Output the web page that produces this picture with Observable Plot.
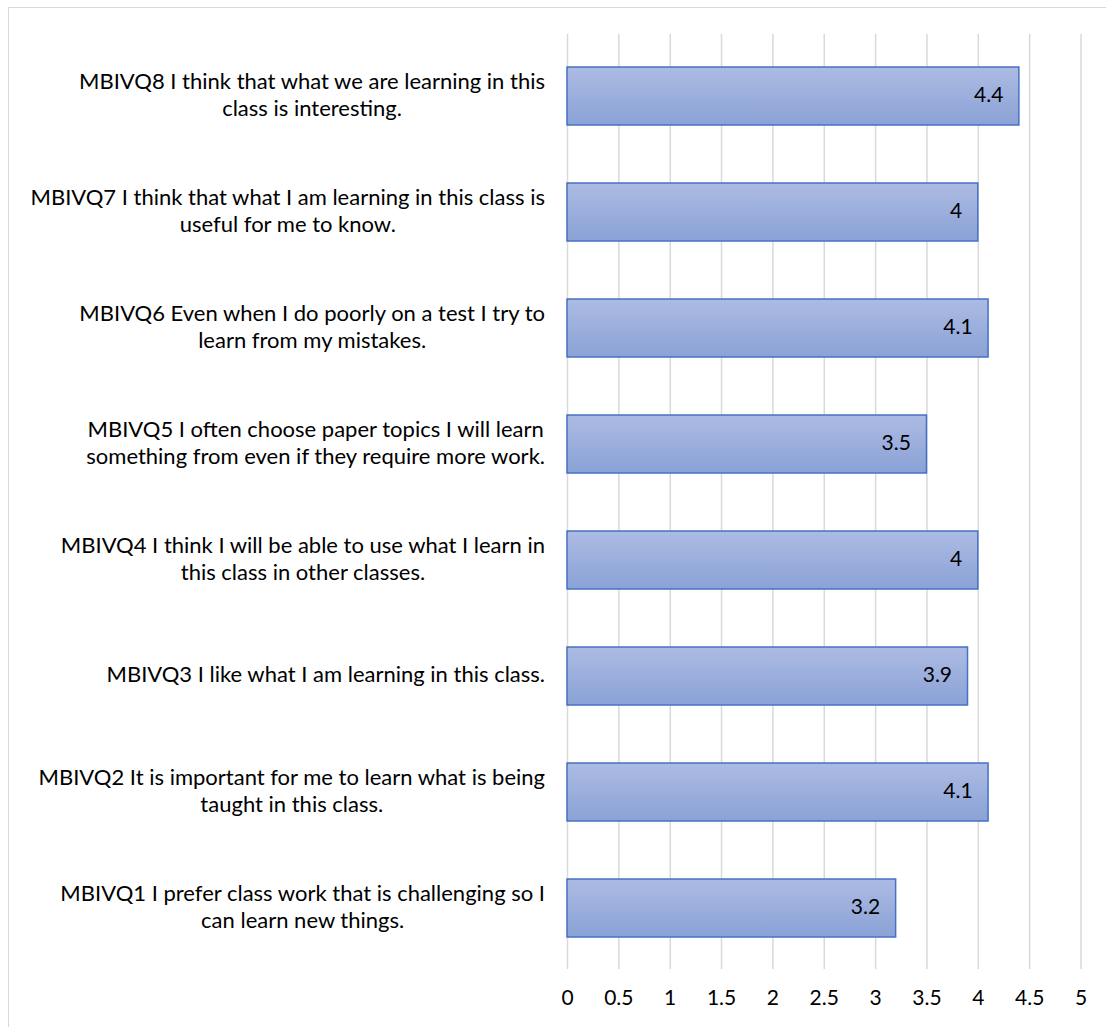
<!DOCTYPE html>
<html>
<head>
<meta charset="utf-8">
<script src="https://cdn.jsdelivr.net/npm/d3@7"></script>
<script src="https://cdn.jsdelivr.net/npm/@observablehq/plot@0.6"></script>
<style>
  html, body { margin: 0; padding: 0; background: #fff; }
  #wrap { position: relative; width: 1106px; height: 1027px; overflow: hidden; }
  #frame { position: absolute; left: 8px; top: 7px; width: 1200px; height: 1200px;
           border-left: 1px solid #d9d9d9; border-top: 1px solid #d9d9d9; }
  #chart { position: absolute; left: 0; top: 0; }
</style>
</head>
<body>
<div id="wrap"><div id="frame"></div><div id="chart"></div></div>
<script>
const categories = [
  "MBIVQ8 I think that what we are learning in this\nclass is interesting.",
  "MBIVQ7 I think that what I am learning in this class is\nuseful for me to know.",
  "MBIVQ6 Even when I do poorly on a test I try to\nlearn from my mistakes.",
  "MBIVQ5 I often choose paper topics I will learn\nsomething from even if they require more work.",
  "MBIVQ4 I think I will be able to use what I learn in\nthis class in other classes.",
  "MBIVQ3 I like what I am learning in this class.",
  "MBIVQ2 It is important for me to learn what is being\ntaught in this class.",
  "MBIVQ1 I prefer class work that is challenging so I\ncan learn new things."
];
const values = [4.4, 4, 4.1, 3.5, 4, 3.9, 4.1, 3.2];
const xTicks = [0, 0.5, 1, 1.5, 2, 2.5, 3, 3.5, 4, 4.5, 5];

const data = categories.map((c, i) => ({category: c, value: values[i]}));

const chart = Plot.plot({
  width: 1106,
  height: 1027,
  marginLeft: 567,
  marginRight: 25.5,
  marginTop: 34,
  marginBottom: 58,
  style: {fontFamily: "Lato, sans-serif", fontSize: "21px", color: "#000", background: "transparent"},
  x: {domain: [0, 5], ticks: xTicks, label: null},
  y: {domain: categories, paddingInner: 0.5, paddingOuter: 0.25, label: null},
  marks: [
    Plot.gridX(xTicks, {stroke: "#d9d9d9", strokeOpacity: 1, strokeWidth: 1.5}),
    Plot.barX(data, {x: "value", y: "category", fill: "url(#barGrad)", stroke: "#4472c4", strokeWidth: 1.5}),
    Plot.text(data, {x: "value", y: "category", text: d => String(d.value), textAnchor: "end", dx: -16, dy: -1, fontSize: 21, fill: "#000"}),
    Plot.axisX(xTicks, {anchor: "bottom", tickSize: 0, tickPadding: 21, fontSize: 21, label: null, tickFormat: d => String(d)}),
    Plot.axisY({anchor: "left", tickSize: 0, textAnchor: "middle", dx: -249, dy: -3, fontSize: 22, lineHeight: 1.25, label: null})
  ]
});

const svg = d3.select(chart);
const defs = svg.insert("defs", ":first-child");
const g = defs.append("linearGradient").attr("id", "barGrad")
  .attr("x1", 0).attr("y1", 0).attr("x2", 0).attr("y2", 1);
g.append("stop").attr("offset", "0%").attr("stop-color", "#adbbe3");
g.append("stop").attr("offset", "100%").attr("stop-color", "#8aa2d6");

document.getElementById("chart").appendChild(chart);

// Right-align each (centred, multi-line) category label block to the same edge
const svgRect = chart.getBoundingClientRect();
const labelRight = 545;
svg.selectAll('g[aria-label="y-axis tick label"] text').each(function() {
  const r = this.getBoundingClientRect();
  const shift = labelRight - (r.right - svgRect.left);
  const t = this.getAttribute("transform") || "";
  this.setAttribute("transform", t + ` translate(${shift},0)`);
});
</script>
</body>
</html>
